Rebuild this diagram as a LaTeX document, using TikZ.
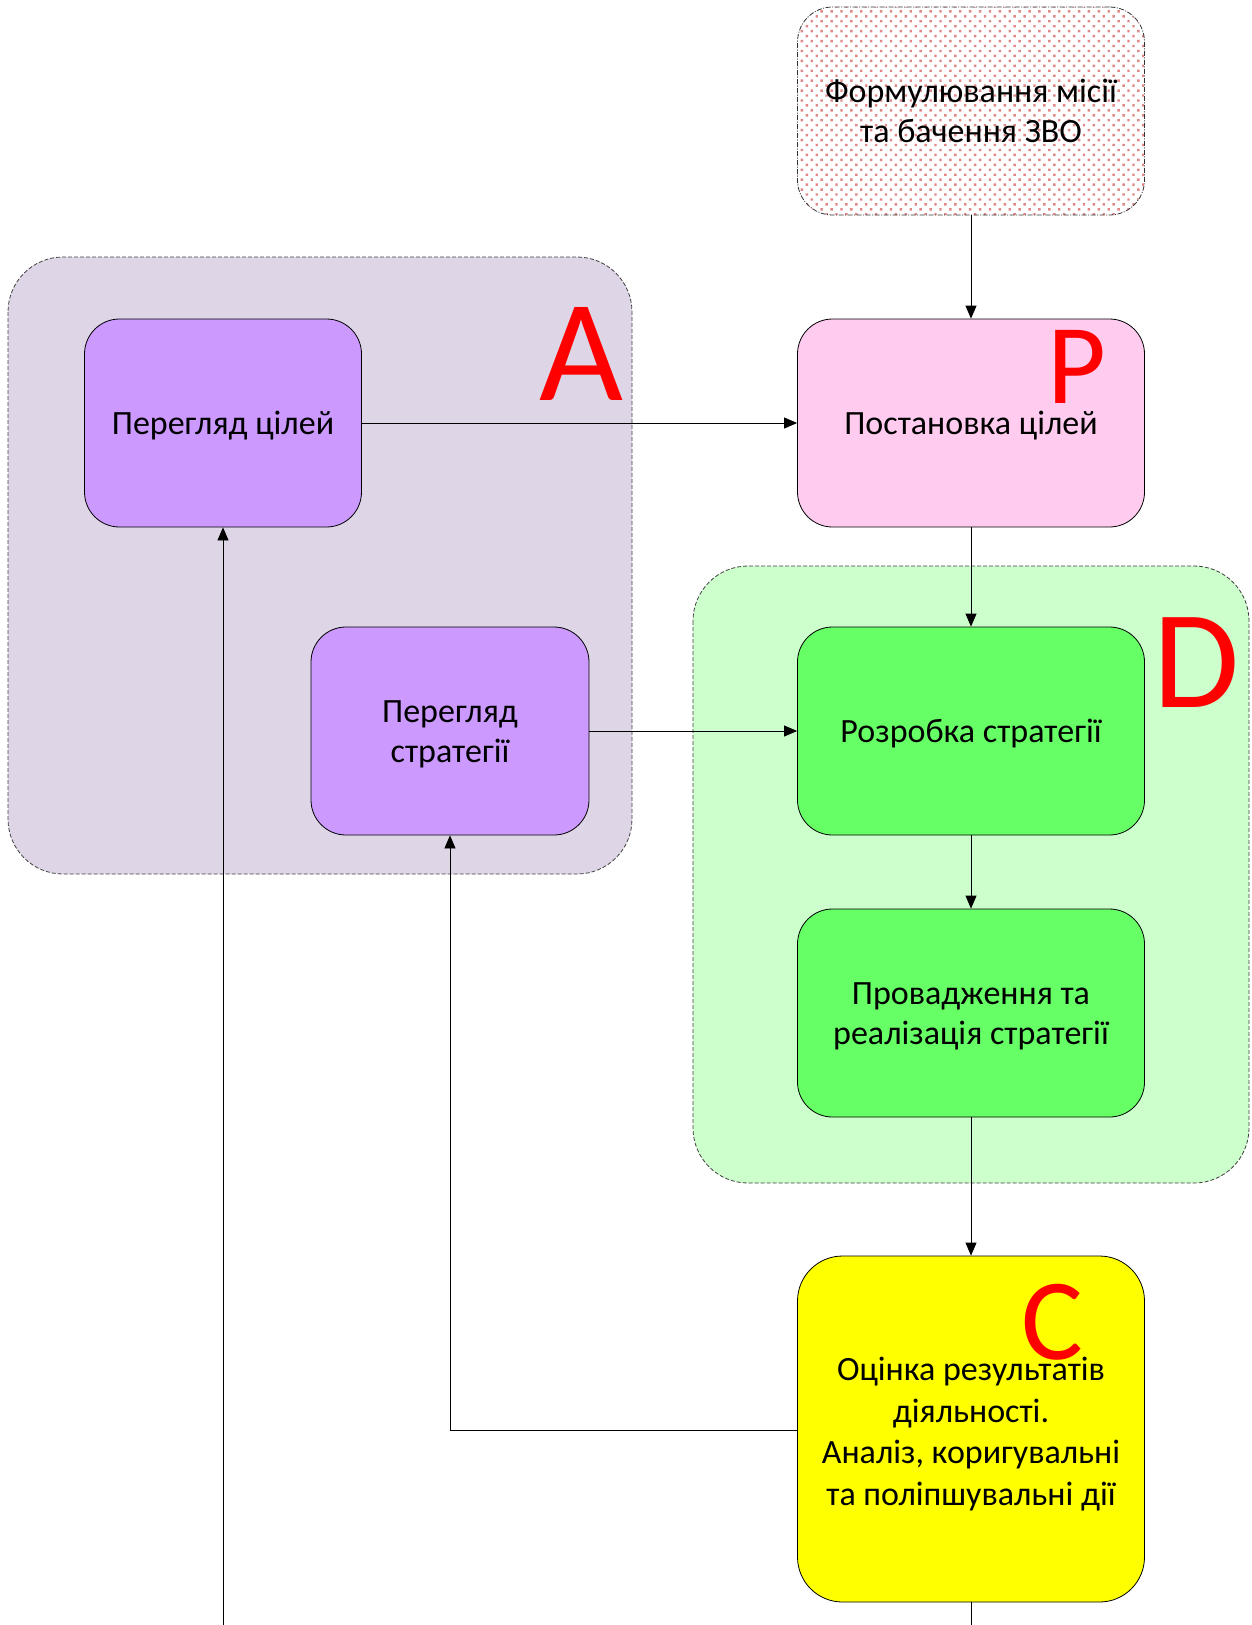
\documentclass[tikz,border=0pt]{standalone}
\usepackage{fontspec}
\setmainfont{Carlito}
\usetikzlibrary{arrows.meta,patterns.meta}
\definecolor{grpA}{HTML}{DED6E6}
\definecolor{grpD}{HTML}{CCFFCC}
\definecolor{boxA}{HTML}{CC99FF}
\definecolor{boxP}{HTML}{FFCCF0}
\definecolor{boxD}{HTML}{66FF66}
\definecolor{boxC}{HTML}{FFFF00}
\definecolor{dotred}{HTML}{E08888}
\def\txt{\fontsize{34}{41.5}\selectfont}
\def\down#1{\raisebox{-3.5pt}[\height][\depth]{\begin{tabular}{@{}c@{}}#1\end{tabular}}}

\begin{document}
\begin{tikzpicture}[x=1pt,y=-1pt,
  box/.style={draw, line width=0.8pt, rounded corners=35pt, minimum width=347pt, minimum height=208pt, align=center, font=\txt, inner sep=0pt},
  grp/.style={draw=black!75, line width=0.8pt, dash pattern=on 4pt off 2pt, rounded corners=55pt},
  letter/.style={text=red, anchor=base, inner sep=0pt},
  arr/.style={line width=0.8pt, -{Triangle[length=13pt,width=11pt]}}]
\useasboundingbox (0,0) rectangle (1251,1625);

% groups
\draw[grp, fill=grpA] (8,257) rectangle (632,874);
\draw[grp, fill=grpD] (693,566) rectangle (1249,1183);

% boxes
\node[box, draw=black!80, dash pattern=on 5pt off 1.5pt on 1pt off 1.5pt, pattern={Dots[distance=7pt, radius=1.7pt, angle=45]}, pattern color=dotred] (mis) at (971,111) {\down{Формулювання місії\\[-1.5pt]та бачення ЗВО}};
\node[box, fill=boxP] (post) at (971,423) {\down{Постановка цілей}};
\node[box, fill=boxA, minimum width=277pt] (pc) at (223,423) {\down{Перегляд цілей}};
\node[box, fill=boxA, minimum width=278pt] (ps) at (450,731) {\down{Перегляд\\[-1.5pt]стратегії}};
\node[box, fill=boxD] (roz) at (971,731) {\down{Розробка стратегії}};
\node[box, fill=boxD] (prov) at (971,1013) {\down{Провадження та\\[-1.5pt]реалізація стратегії}};
\node[box, fill=boxC, rounded corners=45pt, minimum height=346pt] (ocin) at (971,1429) {};
\node[font=\txt, align=center] (ocint) at (971,1434) {Оцінка результатів\\діяльності.\\Аналіз, коригувальні\\та поліпшувальні дії};

% letters
\node[letter, font=\fontsize{145}{145}\selectfont] (la) at (581,400) {A};
\node[letter, font=\fontsize{114}{114}\selectfont] (lp) at (1077,403) {P};
\node[letter, font=\fontsize{140}{140}\selectfont] (ld) at (1197,707) {D};
\node[letter, font=\fontsize{116}{116}\selectfont] (lc) at (1052,1359) {C};

\coordinate (b1) at (223,1625);
\coordinate (b2) at (971,1625);
\coordinate (k) at (450,1430);

% connectors
\draw[arr] (mis) -- (post);
\draw[arr] (pc) -- (post);
\draw[arr] (post) -- (roz);
\draw[arr] (ps) -- (roz);
\draw[arr] (roz) -- (prov);
\draw[arr] (prov) -- (ocin);
\draw[arr] (ocin.west |- k) -- (k) -- (ps);
\draw[arr] (b1) -- (pc);
\draw[line width=0.8pt] (ocin) -- (b2);
\end{tikzpicture}
\end{document}
